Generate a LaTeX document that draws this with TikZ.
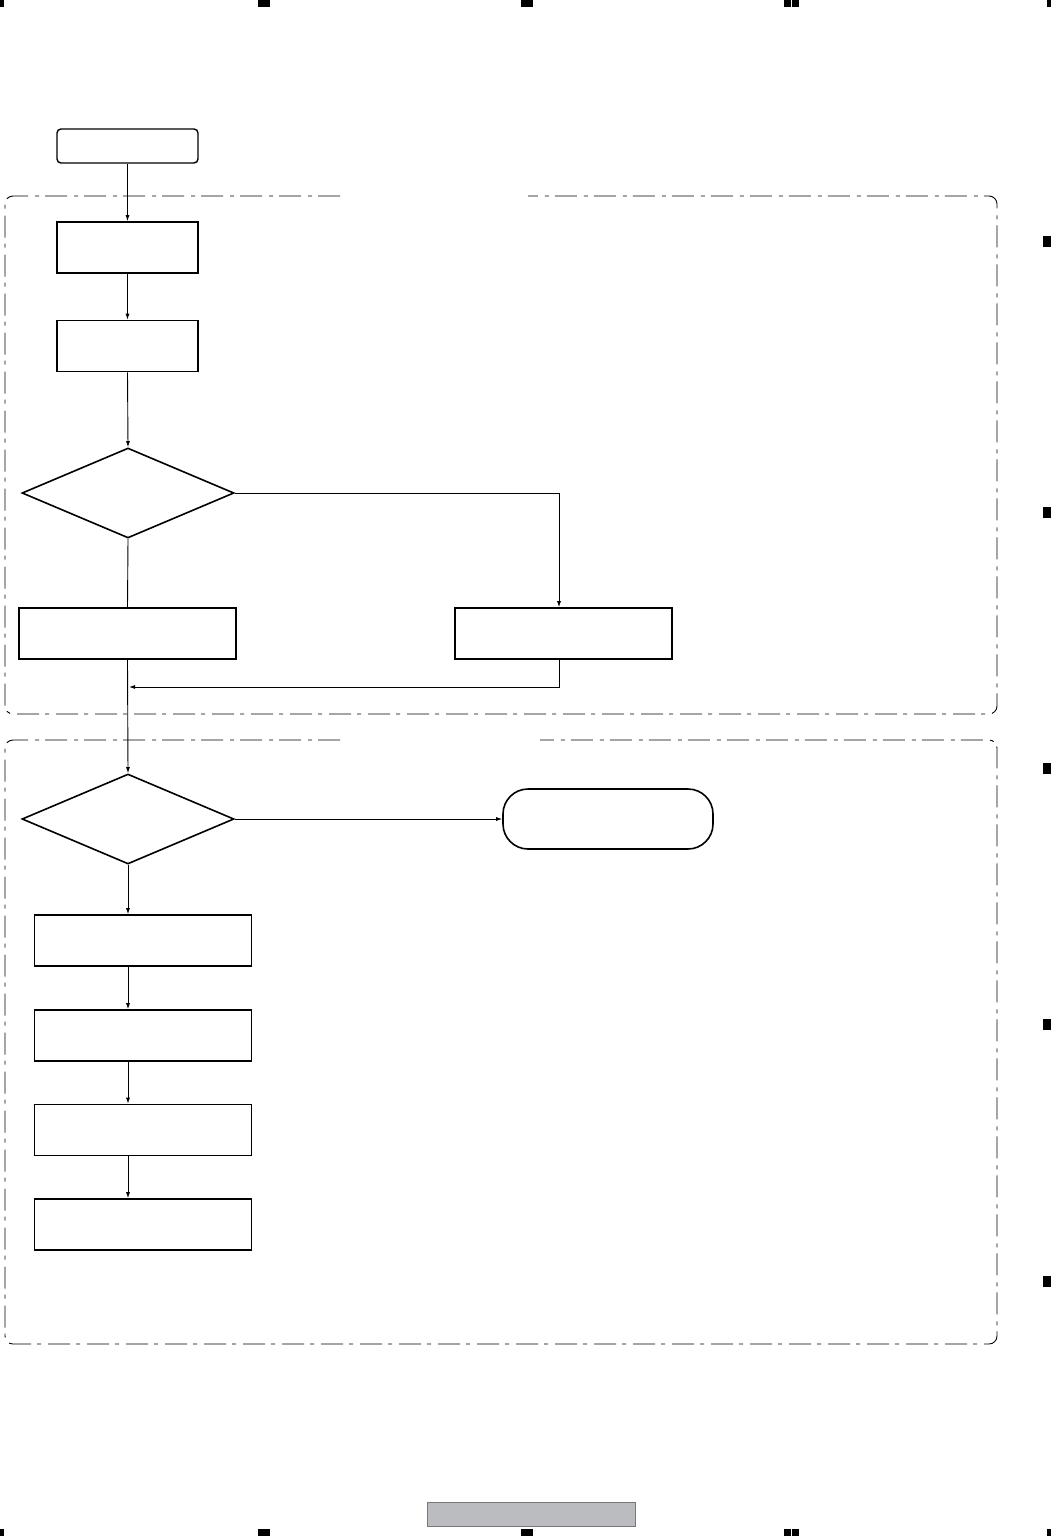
\documentclass[tikz,border=0pt]{standalone}
\usepackage{tikz}
\usetikzlibrary{shapes.geometric, arrows.meta}

\begin{document}
\begin{tikzpicture}[x=1pt, y=-1pt,
  blk/.style={draw, line width=1.6pt, rectangle, inner sep=0pt, minimum width=141pt, minimum height=51pt},
  wideblk/.style={blk, minimum width=217pt},
  dec/.style={draw, line width=1.6pt, diamond, inner sep=0pt, aspect=2.36, minimum width=212pt, minimum height=90pt},
  term/.style={draw, line width=1.6pt, rectangle, rounded corners=25pt, inner sep=0pt, minimum width=210pt, minimum height=60pt},
  arr/.style={line width=0.9pt, -{Latex[length=6pt,width=4pt]}},
  ln/.style={line width=0.9pt},
  zone/.style={line width=0.9pt, rounded corners=8pt, dash pattern=on 22pt off 6pt on 4pt off 7pt},
  pagemark/.style={fill=black}]

\useasboundingbox (0,0) rectangle (1051,1536);

%% page marks
\fill[pagemark] (0,0) rectangle (4,7);
\fill[pagemark] (258,0) rectangle (270,7);
\fill[pagemark] (521,0) rectangle (533,7);
\fill[pagemark] (784,0) rectangle (791,7);
\fill[pagemark] (792,0) rectangle (799,7);
\fill[pagemark] (1047,0) rectangle (1051,7);

\fill[pagemark] (0,1529) rectangle (4,1536);
\fill[pagemark] (258,1529) rectangle (270,1536);
\fill[pagemark] (521,1529) rectangle (533,1536);
\fill[pagemark] (784,1529) rectangle (791,1536);
\fill[pagemark] (792,1529) rectangle (799,1536);
\fill[pagemark] (1047,1529) rectangle (1051,1536);

\fill[pagemark] (1043,236) rectangle (1051,247);
\fill[pagemark] (1043,507) rectangle (1051,518);
\fill[pagemark] (1043,763) rectangle (1051,774);
\fill[pagemark] (1043,1019) rectangle (1051,1030);
\fill[pagemark] (1043,1276) rectangle (1051,1287);

%% zones
\draw[zone] (340,196) -- (5,196) -- (5,714) -- (997,714) -- (997,196) -- (528,196);
\draw[zone] (340,740) -- (5,740) -- (5,1344) -- (997,1344) -- (997,740) -- (540,740);

%% first part
\node[draw, line width=1.4pt, rectangle, rounded corners=4pt, inner sep=0pt, minimum width=141pt, minimum height=34pt] (start) at (127.5,146) {};
\node[blk] (b1) at (127.5,247.5) {};
\node[blk] (b2) at (127.5,346) {};
\node[dec] (d1) at (128,493) {};
\node[wideblk] (b3) at (127.5,633.5) {};
\node[wideblk] (b4) at (563.5,633.5) {};
\coordinate (mrg) at (129,687);

\draw[arr] (start.south) -- (b1.north);
\draw[arr] (b1.south) -- (b2.north);
\draw[arr] (b2.south) -- (d1.north);
\draw[ln] (d1.south) -- (b3.north);
\draw[arr] (d1.east) -| (b4.north -| 559,0);
\draw[arr] (b4.south -| 559,0) |- (mrg);

%% second part
\node[dec] (d2) at (128,819) {};
\node[term] (t1) at (608,819) {};
\node[wideblk] (b5) at (143,940.5) {};
\node[wideblk] (b6) at (143,1035.5) {};
\node[wideblk] (b7) at (143,1130) {};
\node[wideblk] (b8) at (143,1224.5) {};

\draw[arr] (b3.south) -- (d2.north);
\draw[arr] (d2.east) -- (t1.west);
\draw[arr] (d2.south) -- (b5.north -| d2.south);
\draw[arr] (b5.south -| d2.south) -- (b6.north -| d2.south);
\draw[arr] (b6.south -| d2.south) -- (b7.north -| d2.south);
\draw[arr] (b7.south -| d2.south) -- (b8.north -| d2.south);

%% footer
\definecolor{footgray}{RGB}{187,188,192}
\definecolor{footline}{RGB}{120,120,120}
\draw[fill=footgray, draw=footline, line width=0.8pt] (427,1502) rectangle (635,1526);

\end{tikzpicture}
\end{document}
